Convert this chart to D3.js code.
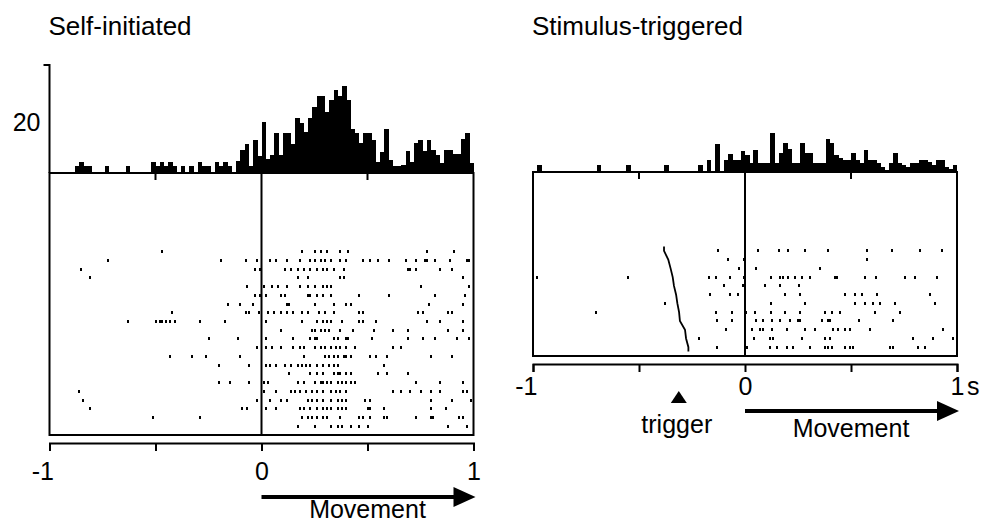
<!DOCTYPE html>
<html>
<head>
<meta charset="utf-8">
<script src="https://cdn.jsdelivr.net/npm/d3@7"></script>
<style>
body { margin: 0; background: #fff; }
svg text { font-family: "Liberation Sans", Arial, sans-serif; fill: #000; }
</style>
</head>
<body>
<div id="chart"></div>
<script>
// histogram bins of 20 ms from -1 s to +1 s, values in spikes/s
const binWidth = 0.02;
const xTicks = [-1, -0.5, 0, 0.5, 1];
const yTicks = [20];

const selfHist = [
    0, 0, 0, 0, 0, 0, 2.6, 4.3, 2.6, 2.6,
    0, 0, 0, 2.6, 0, 0, 0, 0, 2.6, 0,
    0, 0, 0, 0, 4.3, 2.6, 4.3, 2.6, 4.3, 2.6,
    0, 2.6, 0, 2.6, 0, 4.3, 2.6, 2.6, 0, 4.3,
    2.6, 4.3, 2.6, 0, 4.6, 9.2, 11.4, 2.7, 13, 6.8,
    20, 5.5, 7.1, 15.6, 6.9, 15.6, 15.6, 11.4, 21.5, 19.8,
    16, 21.4, 26, 30.2, 30.2, 24, 28.6, 32.5, 30.2, 34.1,
    28.6, 17.1, 15.6, 11.6, 15.6, 15.6, 12.9, 4.4, 8.4, 17.1,
    5.1, 2.7, 2.7, 3.1, 8.8, 4.4, 11.6, 12.9, 8.6, 12.9,
    9, 7.1, 3.8, 9, 9, 7.5, 7.5, 13.2, 15.6, 4
];

const stimHist = [
    0, 2.8, 0, 0, 0, 0, 0, 0, 0, 0,
    0, 0, 0, 0, 0, 2.8, 0, 0, 0, 0,
    0, 0, 2.8, 0, 0, 0, 0, 0, 0, 0,
    0, 2.8, 0, 0, 0, 0, 0, 0, 0, 2.8,
    0, 4.6, 0, 11.1, 0, 4.6, 7.2, 4.6, 4.6, 8.2,
    6.7, 3.7, 8.6, 3.7, 3.7, 3.7, 15.4, 3.7, 7.3, 11.2,
    8.9, 3.7, 3.7, 11.2, 7.3, 7.3, 3.7, 3.7, 3.7, 12.9,
    11.2, 6.7, 5.4, 4.7, 4.7, 7.3, 4.7, 3.7, 8.6, 4.7,
    4.7, 3.7, 2.1, 0.8, 3.4, 7.3, 3.4, 2.7, 2.1, 3.4,
    3.4, 4.7, 4.7, 4, 2.7, 4.7, 4.7, 2.1, 1, 2.7
];

// spike times (s) per trial, top row first
const selfTrials = [
    [-0.47, 0.19, 0.25, 0.28, 0.31, 0.37, 0.41, 0.78, 0.91],
    [-0.725, -0.19, -0.075, -0.02, 0.04, 0.07, 0.12, 0.18, 0.23, 0.25, 0.28, 0.30, 0.33, 0.37, 0.40, 0.48, 0.51, 0.55, 0.60, 0.68, 0.73, 0.77, 0.78, 0.82, 0.89, 0.97, 0.98],
    [-0.85, -0.03, -0.005, 0.11, 0.14, 0.17, 0.20, 0.23, 0.26, 0.29, 0.31, 0.34, 0.39, 0.69, 0.70, 0.73, 0.84, 0.90],
    [-0.81, 0.17, 0.22, 0.37, 0.39, 0.95],
    [-0.07, 0.01, 0.05, 0.08, 0.12, 0.18, 0.22, 0.25, 0.29, 0.31, 0.33, 0.75, 0.98],
    [-0.03, -0.005, 0.02, 0.09, 0.11, 0.22, 0.23, 0.26, 0.29, 0.33, 0.46, 0.60, 0.82, 0.96],
    [-0.16, -0.10, -0.04, 0.12, 0.13, 0.25, 0.34, 0.40, 0.42, 0.79, 0.95],
    [-0.42, -0.075, -0.06, -0.01, 0.03, 0.06, 0.09, 0.12, 0.15, 0.19, 0.22, 0.27, 0.30, 0.34, 0.46, 0.48, 0.74, 0.76, 0.88, 0.90],
    [-0.63, -0.50, -0.48, -0.47, -0.45, -0.43, -0.41, -0.29, -0.17, 0.02, 0.19, 0.26, 0.29, 0.31, 0.33, 0.38, 0.46, 0.48, 0.54, 0.78, 0.84, 0.95],
    [0.09, 0.24, 0.25, 0.28, 0.30, 0.32, 0.37, 0.43, 0.53, 0.62, 0.69, 0.88, 0.95],
    [-0.25, -0.11, 0.02, 0.15, 0.23, 0.25, 0.26, 0.34, 0.36, 0.40, 0.41, 0.52, 0.69, 0.76, 0.82, 0.92, 0.98],
    [-0.02, 0.02, 0.05, 0.09, 0.15, 0.18, 0.20, 0.25, 0.28, 0.30, 0.33, 0.35, 0.37, 0.40, 0.44, 0.62, 0.66],
    [-0.43, -0.33, -0.26, -0.10, 0.20, 0.30, 0.32, 0.34, 0.36, 0.39, 0.40, 0.42, 0.51, 0.54, 0.59, 0.80, 0.90],
    [-0.20, -0.06, 0.02, 0.04, 0.07, 0.11, 0.14, 0.17, 0.19, 0.21, 0.23, 0.26, 0.29, 0.32, 0.34, 0.36, 0.58],
    [0.13, 0.23, 0.26, 0.29, 0.34, 0.36, 0.37, 0.40, 0.42, 0.55, 0.59, 0.69],
    [-0.20, -0.15, -0.06, 0.01, 0.03, 0.17, 0.20, 0.25, 0.28, 0.29, 0.31, 0.33, 0.36, 0.38, 0.40, 0.42, 0.44, 0.73, 0.84, 0.95],
    [-0.86, 0.01, 0.07, 0.14, 0.16, 0.18, 0.21, 0.24, 0.26, 0.29, 0.33, 0.35, 0.37, 0.40, 0.62, 0.66, 0.70, 0.75, 0.80, 0.84, 0.95, 0.97],
    [-0.84, -0.02, 0.04, 0.09, 0.12, 0.22, 0.24, 0.26, 0.29, 0.33, 0.36, 0.38, 0.40, 0.49, 0.51, 0.80, 0.90, 0.99],
    [-0.81, -0.09, -0.07, 0.02, 0.07, 0.18, 0.20, 0.23, 0.26, 0.29, 0.31, 0.33, 0.36, 0.38, 0.40, 0.50, 0.51, 0.58, 0.80, 0.87],
    [-0.51, -0.29, 0.19, 0.22, 0.24, 0.26, 0.29, 0.31, 0.37, 0.46, 0.48, 0.51, 0.58, 0.59, 0.73, 0.80, 0.81, 0.93, 0.95],
    [0.17, 0.25, 0.33, 0.36, 0.38, 0.42, 0.46, 0.50, 0.88, 0.97]
];

const stimTrials = [
    [-0.126, 0.0, 0.063, 0.162, 0.204, 0.283, 0.393, 0.574, 0.692, 0.825, 0.928],
    [-0.079, -0.005, 0.574],
    [-0.027, 0.052, 0.354],
    [-0.98, -0.55, -0.168, -0.137, -0.071, -0.005, 0.121, 0.165, 0.181, 0.204, 0.236, 0.267, 0.307, 0.425, 0.432, 0.566, 0.618, 0.755, 0.802, 0.904],
    [-0.099, -0.008, 0.094, 0.165, 0.256],
    [-0.165, -0.071, -0.031, 0.189, 0.259, 0.472, 0.519, 0.55, 0.621, 0.873],
    [-0.377, 0.121, 0.283, 0.519, 0.566, 0.605, 0.637, 0.708, 0.896],
    [-0.703, -0.137, -0.063, 0.005, 0.047, 0.121, 0.189, 0.259, 0.377, 0.409, 0.448, 0.613, 0.731],
    [-0.131, -0.063, 0.0, 0.052, 0.086, 0.126, 0.165, 0.212, 0.252, 0.259, 0.362, 0.393, 0.401, 0.539, 0.7],
    [-0.09, 0.031, 0.071, 0.086, 0.126, 0.197, 0.283, 0.33, 0.417, 0.44, 0.472, 0.495, 0.59, 0.936],
    [-0.215, 0.042, 0.118, 0.134, 0.267, 0.377, 0.401, 0.794, 0.888, 0.983],
    [-0.131, 0.008, 0.118, 0.149, 0.197, 0.228, 0.307, 0.377, 0.393, 0.409, 0.472, 0.495, 0.511, 0.684, 0.7, 0.818, 0.849]
];

// trigger onset per stimulus trial, top row first
const stimTriggers = [-0.382, -0.362, -0.351, -0.341, -0.335, -0.325, -0.319, -0.311, -0.307, -0.283, -0.278, -0.267];

const panels = [
    {title: 'Self-initiated', hist: selfHist, trials: selfTrials, left: 49.5, right: 473.5,
        base: 173, boxBottom: 435, rows: 30, axisY: 443, labelPad: 11, yAxis: true,
        arrowY: 497, moveY: 518},
    {title: 'Stimulus-triggered', hist: stimHist, trials: stimTrials, triggers: stimTriggers,
        left: 533, right: 957, base: 172, boxBottom: 356, rows: 21, axisY: 364, labelPad: 5,
        unit: 's', arrowY: 411, moveY: 437}
];

var svg = d3.select('#chart')
    .append('svg')
    .attr('width', 981)
    .attr('height', 523);

panels.forEach(function (p) {
    var g = svg.append('g');
    var x = d3.scaleLinear().domain([-1, 1]).range([p.left, p.right]);
    var y = d3.scaleLinear().domain([0, 42.4]).range([p.base, p.base - 108]);
    var row = d3.scaleLinear().domain([0, p.rows]).range([p.boxBottom, p.base]);
    var n = p.trials.length;

    g.append('text')
        .attr('x', p.left - 1)
        .attr('y', 35)
        .attr('font-size', 26)
        .text(p.title);

    // histogram
    g.append('g').selectAll('rect')
        .data(p.hist.map(function (v, i) { return {t: -1 + i * binWidth, v: v}; })
            .filter(function (d) { return d.v > 0; }))
        .enter().append('rect')
        .attr('x', function (d) { return x(d.t); })
        .attr('width', x(binWidth) - x(0) + 0.3)
        .attr('y', function (d) { return y(d.v); })
        .attr('height', function (d) { return p.base - y(d.v); })
        .attr('fill', '#000')
        .attr('shape-rendering', 'crispEdges');

    if (p.yAxis) {
        var ya = g.append('g')
            .attr('transform', 'translate(' + p.left + ',0)')
            .call(d3.axisLeft(y).tickValues(yTicks).tickSizeInner(0).tickPadding(9));
        ya.select('.domain').remove();
        ya.selectAll('text').attr('font-size', 25).attr('font-family', '"Liberation Sans", Arial, sans-serif');
        g.append('path')
            .attr('d', 'M' + (p.left - 6) + ',' + y(42.4) + 'H' + p.left + 'V' + p.base)
            .attr('fill', 'none')
            .attr('stroke', '#000')
            .attr('stroke-width', 2);
    }

    // raster box
    g.append('rect')
        .attr('x', p.left)
        .attr('y', p.base)
        .attr('width', p.right - p.left)
        .attr('height', p.boxBottom - p.base)
        .attr('fill', 'none')
        .attr('stroke', '#000')
        .attr('stroke-width', 2);
    g.append('line')
        .attr('x1', x(0)).attr('x2', x(0))
        .attr('y1', p.base).attr('y2', p.boxBottom)
        .attr('stroke', '#000')
        .attr('stroke-width', 2);
    g.append('g').selectAll('line')
        .data([-0.5, 0.5])
        .enter().append('line')
        .attr('x1', x).attr('x2', x)
        .attr('y1', p.base).attr('y2', p.base + 7)
        .attr('stroke', '#000')
        .attr('stroke-width', 2);

    // spikes
    var spikes = [];
    p.trials.forEach(function (ts, r) {
        ts.forEach(function (t) { spikes.push({t: t, k: n - r}); });
    });
    g.append('g').selectAll('rect')
        .data(spikes)
        .enter().append('rect')
        .attr('x', function (d) { return Math.round(x(d.t) - 1); })
        .attr('y', function (d) { return Math.round(row(d.k) - 1.5); })
        .attr('width', 2)
        .attr('height', 3)
        .attr('fill', '#000')
        .attr('shape-rendering', 'crispEdges');

    if (p.triggers) {
        var pts = p.triggers.map(function (t, r) { return {t: t, k: n - r}; });
        g.append('path')
            .attr('d', d3.line()
                .x(function (d) { return x(d.t); })
                .y(function (d) { return row(d.k); })(
                    [{t: pts[0].t, k: pts[0].k + 0.5}].concat(pts, [{t: pts[n - 1].t, k: pts[n - 1].k - 0.5}])))
            .attr('fill', 'none')
            .attr('stroke', '#000')
            .attr('stroke-width', 1.8);

        var tx = x(d3.mean(p.triggers)) + 2;
        g.append('path')
            .attr('d', 'M' + tx + ',391L' + (tx + 8) + ',403L' + (tx - 8) + ',403Z')
            .attr('fill', '#000');
        g.append('text')
            .attr('x', tx - 2)
            .attr('y', 433)
            .attr('text-anchor', 'middle')
            .attr('font-size', 25)
            .text('trigger');
    }

    // time axis
    var xa = g.append('g')
        .attr('transform', 'translate(0,' + p.axisY + ')')
        .call(d3.axisBottom(x).tickValues(xTicks).tickSize(8).tickPadding(p.labelPad)
            .tickFormat(function (d) { return d % 1 === 0 ? String(d) : ''; }));
    xa.selectAll('path, line').attr('stroke-width', 2);
    xa.selectAll('text').attr('font-size', 25).attr('font-family', '"Liberation Sans", Arial, sans-serif');
    xa.selectAll('text').filter(function (d) { return d === -1; })
        .attr('text-anchor', 'end').attr('x', 4);
    if (p.unit) {
        g.append('text')
            .attr('x', x(1) + 10)
            .attr('y', p.axisY + 8 + p.labelPad)
            .attr('dy', '0.71em')
            .attr('font-size', 25)
            .text(p.unit);
    }

    // movement arrow
    g.append('line')
        .attr('x1', x(0)).attr('x2', x(1) - 18)
        .attr('y1', p.arrowY).attr('y2', p.arrowY)
        .attr('stroke', '#000')
        .attr('stroke-width', 4);
    g.append('path')
        .attr('d', 'M' + (x(1) + 2) + ',' + p.arrowY + 'L' + (x(1) - 20) + ',' + (p.arrowY - 10) +
            'L' + (x(1) - 20) + ',' + (p.arrowY + 10) + 'Z')
        .attr('fill', '#000');
    g.append('text')
        .attr('x', x(0.5))
        .attr('y', p.moveY)
        .attr('text-anchor', 'middle')
        .attr('font-size', 25)
        .text('Movement');
});
</script>
</body>
</html>
